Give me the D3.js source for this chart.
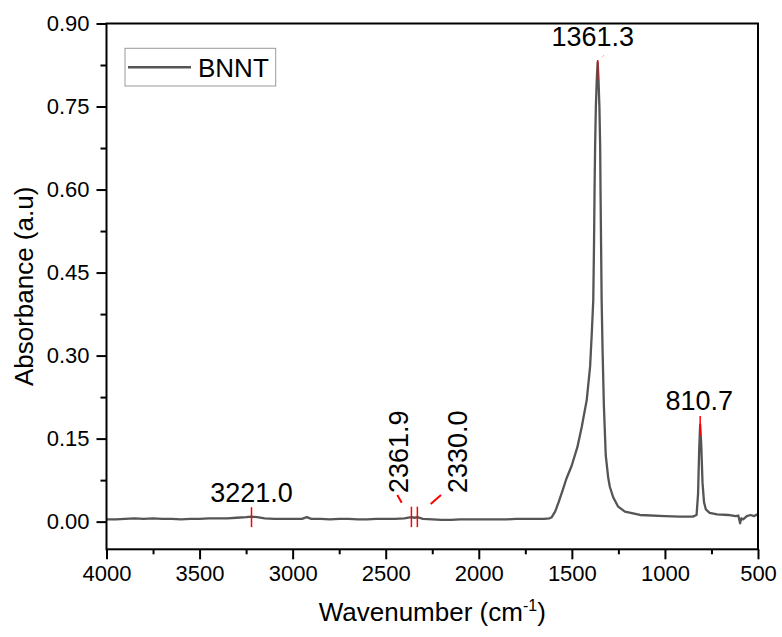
<!DOCTYPE html>
<html>
<head>
<meta charset="utf-8">
<script src="https://cdn.jsdelivr.net/npm/d3@7"></script>
<style>
  body { margin: 0; background: #fff; }
  text { font-family: "Liberation Sans", Arial, sans-serif; fill: #000; }
</style>
</head>
<body>
<svg id="chart"></svg>
<script>
const width = 782;
const height = 637;

// spectrum (wavenumber cm-1, absorbance)
const wavenumbers = [
  4000, 3950, 3900, 3850, 3800, 3750, 3700, 3650, 3600, 3550, 3500, 3450, 3400, 3350, 3300, 3250,
  3221, 3190, 3150, 3100, 3050, 3000, 2950, 2924, 2900, 2850, 2800, 2750, 2700, 2650, 2600, 2550,
  2500, 2450, 2400, 2362, 2345, 2330, 2300, 2250, 2200, 2150, 2100, 2050, 2000, 1950, 1900, 1850,
  1800, 1750, 1700, 1650, 1620, 1608, 1590, 1570, 1550, 1530, 1501, 1470, 1447, 1420, 1402, 1393,
  1385, 1381, 1378, 1375, 1371, 1366, 1361.3, 1357, 1352, 1348, 1346, 1343, 1340, 1335, 1328, 1318,
  1305, 1296, 1278, 1251, 1215, 1134, 1000, 920, 850, 830, 822, 816, 810.7, 805, 798, 790,
  780, 760, 720, 660, 620, 606, 596, 590, 580, 560, 540, 520, 505, 500
];
const absorbance = [
  0.004, 0.004, 0.005, 0.006, 0.005, 0.006, 0.005, 0.005, 0.004, 0.005, 0.005, 0.006, 0.006, 0.006, 0.007, 0.008,
  0.009, 0.008, 0.006, 0.005, 0.005, 0.005, 0.005, 0.008, 0.005, 0.005, 0.004, 0.005, 0.005, 0.004, 0.004, 0.005,
  0.005, 0.005, 0.006, 0.008, 0.007, 0.008, 0.005, 0.004, 0.003, 0.003, 0.004, 0.004, 0.004, 0.004, 0.004, 0.004,
  0.005, 0.005, 0.005, 0.005, 0.006, 0.008, 0.018, 0.036, 0.056, 0.077, 0.101, 0.135, 0.171, 0.22, 0.28, 0.34,
  0.40, 0.50, 0.60, 0.68, 0.75, 0.80, 0.83, 0.80, 0.75, 0.68, 0.60, 0.50, 0.40, 0.31, 0.21, 0.12,
  0.08, 0.063, 0.044, 0.027, 0.018, 0.012, 0.010, 0.009, 0.009, 0.012, 0.05, 0.13, 0.175, 0.14, 0.07, 0.035,
  0.022, 0.016, 0.013, 0.012, 0.010, 0.011, -0.003, 0.006, 0.004, 0.010, 0.012, 0.010, 0.013, 0.011
];

// labelled peaks
const peakLabels = ['3221.0', '2361.9', '2330.0', '1361.3', '810.7'];
const peakPos = [3221.0, 2361.9, 2330.0, 1361.3, 810.7];
const markTop = [0.026, 0.027, 0.027, 0.834, 0.191];
const markBottom = [-0.010, -0.010, -0.010, 0.798, 0.155];

const xTicks = [4000, 3500, 3000, 2500, 2000, 1500, 1000, 500];
const xMinor = [3750, 3250, 2750, 2250, 1750, 1250, 750];
const yTicks = [0.00, 0.15, 0.30, 0.45, 0.60, 0.75, 0.90];
const yMinor = [0.075, 0.225, 0.375, 0.525, 0.675, 0.825];

const plotLeft = 106.5, plotRight = 758, plotTop = 23.5, plotBottom = 549.3;

const svg = d3.select('#chart').attr('width', width).attr('height', height);

const x = d3.scaleLinear().domain([4000, 500]).range([plotLeft, plotRight]);
const y = d3.scaleLinear().domain([-0.05, 0.90]).range([plotBottom, plotTop]);

// axes
function styleAxis(g) {
  g.select('.domain').remove();
  g.selectAll('.tick line').attr('stroke', '#000').attr('stroke-width', 2);
  g.selectAll('.tick text').style('font-size', '22px');
}

svg.append('g')
  .attr('transform', `translate(0, ${plotBottom})`)
  .call(d3.axisBottom(x).tickValues(xTicks).tickSize(10).tickPadding(6).tickFormat(d3.format('d')))
  .call(styleAxis);
svg.append('g')
  .attr('transform', `translate(0, ${plotBottom})`)
  .call(d3.axisBottom(x).tickValues(xMinor).tickSize(5).tickFormat(''))
  .call(styleAxis);

svg.append('g')
  .attr('transform', `translate(${plotLeft}, 0)`)
  .call(d3.axisLeft(y).tickValues(yTicks).tickSize(10).tickPadding(7).tickFormat(d3.format('.2f')))
  .call(styleAxis);
svg.append('g')
  .attr('transform', `translate(${plotLeft}, 0)`)
  .call(d3.axisLeft(y).tickValues(yMinor).tickSize(6).tickFormat(''))
  .call(styleAxis);

// spectrum
const pts = wavenumbers.map((w, i) => [w, absorbance[i]]);
const line = d3.line().x(d => x(d[0])).y(d => y(d[1]));

svg.append('path')
  .datum(pts)
  .attr('fill', 'none')
  .attr('stroke', '#555555')
  .attr('stroke-width', 2.3)
  .attr('stroke-linejoin', 'round')
  .attr('d', line);

// red peak markers
svg.selectAll('.mark')
  .data(peakPos)
  .enter()
  .append('line')
  .attr('class', 'mark')
  .attr('x1', d => x(d)).attr('x2', d => x(d))
  .attr('y1', (d, i) => y(markTop[i]))
  .attr('y2', (d, i) => y(markBottom[i]))
  .attr('stroke', '#ff0000')
  .attr('stroke-width', 1.5);

// peak labels
const fs = '27px';
svg.append('text').attr('x', x(3221.0)).attr('y', 502).attr('text-anchor', 'middle')
  .style('font-size', fs).text(peakLabels[0]);
svg.append('text').attr('x', x(1361.3) - 5).attr('y', 46).attr('text-anchor', 'middle')
  .style('font-size', fs).text(peakLabels[3]);
svg.append('text').attr('x', x(810.7) - 1).attr('y', 410).attr('text-anchor', 'middle')
  .style('font-size', fs).text(peakLabels[4]);

svg.append('text')
  .attr('transform', 'translate(407.5, 493) rotate(-90)')
  .style('font-size', fs).text(peakLabels[1]);
svg.append('text')
  .attr('transform', 'translate(467, 493) rotate(-90)')
  .style('font-size', fs).text(peakLabels[2]);

// short red leaders
svg.append('line').attr('x1', 397.3).attr('y1', 495).attr('x2', 401.7).attr('y2', 502.7)
  .attr('stroke', '#ff0000').attr('stroke-width', 2);
svg.append('line').attr('x1', 441).attr('y1', 495).attr('x2', 430.7).attr('y2', 504)
  .attr('stroke', '#ff0000').attr('stroke-width', 2);
svg.append('line').attr('x1', 602.5).attr('y1', 56.5).attr('x2', 603.5).attr('y2', 55.5)
  .attr('stroke', '#ff6060').attr('stroke-width', 1);

// frame
svg.append('rect')
  .attr('x', plotLeft).attr('y', plotTop)
  .attr('width', plotRight - plotLeft).attr('height', plotBottom - plotTop)
  .attr('fill', 'none').attr('stroke', '#000').attr('stroke-width', 2);

// axis titles
svg.append('text')
  .attr('transform', `translate(33, ${(plotTop + plotBottom) / 2}) rotate(-90)`)
  .attr('text-anchor', 'middle')
  .style('font-size', '26px')
  .text('Absorbance (a.u)');

const xt = svg.append('text')
  .attr('x', (plotLeft + plotRight) / 2).attr('y', 621)
  .attr('text-anchor', 'middle')
  .style('font-size', '26px');
xt.append('tspan').text('Wavenumber (cm');
xt.append('tspan').attr('dy', -10).style('font-size', '16px').text('-1');
xt.append('tspan').attr('dy', 10).text(')');

// legend
const lg = svg.append('g');
lg.append('rect')
  .attr('x', 125).attr('y', 48.3).attr('width', 150.7).attr('height', 37.7)
  .attr('fill', '#fff').attr('stroke', '#9a9a9a').attr('stroke-width', 1);
lg.append('line')
  .attr('x1', 128).attr('x2', 191).attr('y1', 67.3).attr('y2', 67.3)
  .attr('stroke', '#555555').attr('stroke-width', 2.5);
lg.append('text')
  .attr('x', 198).attr('y', 76.7)
  .style('font-size', '26px')
  .text('BNNT');
</script>
</body>
</html>
